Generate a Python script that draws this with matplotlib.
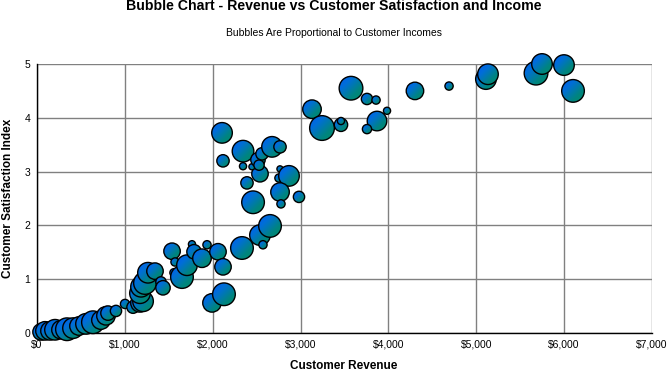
import numpy as np
import matplotlib
matplotlib.use("Agg")
import matplotlib.pyplot as plt
from matplotlib.patches import Ellipse
from matplotlib.colors import LinearSegmentedColormap
from matplotlib.ticker import FuncFormatter

# ---- data ----
revenue = [46, 91, 148, 205, 273, 341, 410, 478, 558, 637, 728, 785, 808, 899,
           1002, 1093, 1172, 1207, 1172, 1184, 1229, 1263, 1343, 1411, 1434,
           1537, 1571, 1559, 1650, 1707, 1764, 1787, 1878, 1935, 2060, 2117,
           1992, 2128, 2333, 2538, 2652, 2572, 2459, 2390, 2538, 2345, 2447,
           2117, 2106, 2345, 2515, 2561, 2527, 2675, 2766, 2766, 2754, 2868,
           2766, 2777, 2982, 3130, 3244, 3460, 3460, 3574, 3756, 3859, 3870,
           3756, 3984, 4302, 4690, 5110, 5133, 5680, 5748, 5998, 6101]
satisfaction = [0.02, 0.04, 0.04, 0.06, 0.06, 0.07, 0.09, 0.13, 0.17, 0.20,
                0.24, 0.32, 0.37, 0.41, 0.54, 0.48, 0.56, 0.59, 0.74, 0.86,
                0.93, 1.12, 1.15, 0.95, 0.84, 1.52, 1.32, 1.12, 1.04, 1.26,
                1.65, 1.51, 1.39, 1.64, 1.51, 1.23, 0.56, 0.72, 1.58, 1.82,
                1.99, 1.64, 2.43, 2.79, 2.96, 3.10, 3.09, 3.20, 3.72, 3.38,
                3.22, 3.33, 3.12, 3.46, 3.46, 3.05, 2.88, 2.92, 2.62, 2.40,
                2.53, 4.16, 3.81, 3.87, 3.94, 4.55, 4.35, 4.33, 3.94, 3.79,
                4.13, 4.50, 4.59, 4.72, 4.81, 4.83, 5.00, 4.98, 4.50]
income_k = [64, 81, 81, 100, 81, 121, 100, 81, 100, 121, 81, 81, 49, 30,
            20, 36, 81, 100, 100, 100, 121, 100, 64, 25, 49, 64, 16, 16, 121,
            100, 12, 49, 81, 16, 64, 64, 81, 121, 121, 100, 121, 16, 121, 36,
            64, 12, 9, 36, 100, 110, 49, 36, 25, 100, 36, 9, 16, 100, 81, 16,
            30, 81, 144, 42, 12, 132, 30, 16, 90, 20, 12, 72, 16, 100, 100,
            132, 100, 100, 121]

x_ticks = [0, 1000, 2000, 3000, 4000, 5000, 6000, 7000]
y_ticks = [0, 1, 2, 3, 4, 5]

title = "Bubble Chart - Revenue vs Customer Satisfaction and Income"
subtitle = "Bubbles Are Proportional to Customer Incomes"
x_label = "Customer Revenue"
y_label = "Customer Satisfaction Index"

# ---- figure ----
FONT = ["Liberation Sans", "DejaVu Sans"]
plt.rcParams["font.family"] = FONT

W, H = 668, 372
fig = plt.figure(figsize=(W / 100, H / 100), dpi=100)
fig.patch.set_facecolor("white")
ax = fig.add_axes([37 / W, (H - 333) / H, (652 - 37) / W, (333 - 64) / H])
ax.set_xlim(0, 7000)
ax.set_ylim(0, 5)

ax.set_xticks(x_ticks)
ax.set_yticks(y_ticks)
ax.xaxis.set_major_formatter(FuncFormatter(lambda v, p: f"${int(v):,}"))
ax.tick_params(length=0, labelsize=7.5, pad=5, colors="black")
ax.grid(True, color="#808080", lw=1)
ax.set_axisbelow(True)
for s in ["top", "right"]:
    ax.spines[s].set_visible(False)
for s in ["left", "bottom"]:
    ax.spines[s].set_color("black")
    ax.spines[s].set_linewidth(1)
    ax.spines[s].set_zorder(1)

fig.text(344 / W, 1 - 366 / H, x_label, ha="center", va="center",
         fontsize=8.5, fontweight="bold")
fig.text(8 / W, 1 - 198 / H, y_label, ha="center", va="center", rotation=90,
         fontsize=8.5, fontweight="bold")

fig.text(0.5, 1 - 6 / H, title, ha="center", va="center", fontsize=10.2, fontweight="bold")
fig.text(0.5, 1 - 33 / H, subtitle, ha="center", va="center", fontsize=7.5)

# gradient bubbles (blue upper-left -> teal lower-right)
cmap = LinearSegmentedColormap.from_list(
    "bub", [(0.0, "#005CF0"), (0.3, "#006ED8"), (0.7, "#00857F"), (1.0, "#008C6A")])
n = 64
u = np.linspace(0, 1, n)
grad = (u[None, :] + u[:, None]) / 2.0  # top-left -> bottom-right

fig.canvas.draw()
inv = ax.transData.inverted()
for i, (x, y, inc) in enumerate(zip(revenue, satisfaction, income_k)):
    r = np.sqrt(inc) * 1.03
    cx, cy = ax.transData.transform((x, y))
    x0, y0 = inv.transform((cx - r, cy - r))
    x1, y1 = inv.transform((cx + r, cy + r))
    z = 3 + i * 0.01
    circ = Ellipse((x, y), width=x1 - x0, height=y1 - y0, facecolor="none",
                   edgecolor="black", lw=1.0, zorder=z + 0.005, clip_on=False)
    ax.add_patch(circ)
    im = ax.imshow(grad, extent=(x0, x1, y0, y1), cmap=cmap, vmin=0, vmax=1,
                   origin="upper", aspect="auto", interpolation="bilinear", zorder=z)
    im.set_clip_path(circ)
    im.set_clip_box(fig.bbox)

ax.set_xlim(0, 7000)
ax.set_ylim(0, 5)

fig.savefig("out.png", dpi=100)
